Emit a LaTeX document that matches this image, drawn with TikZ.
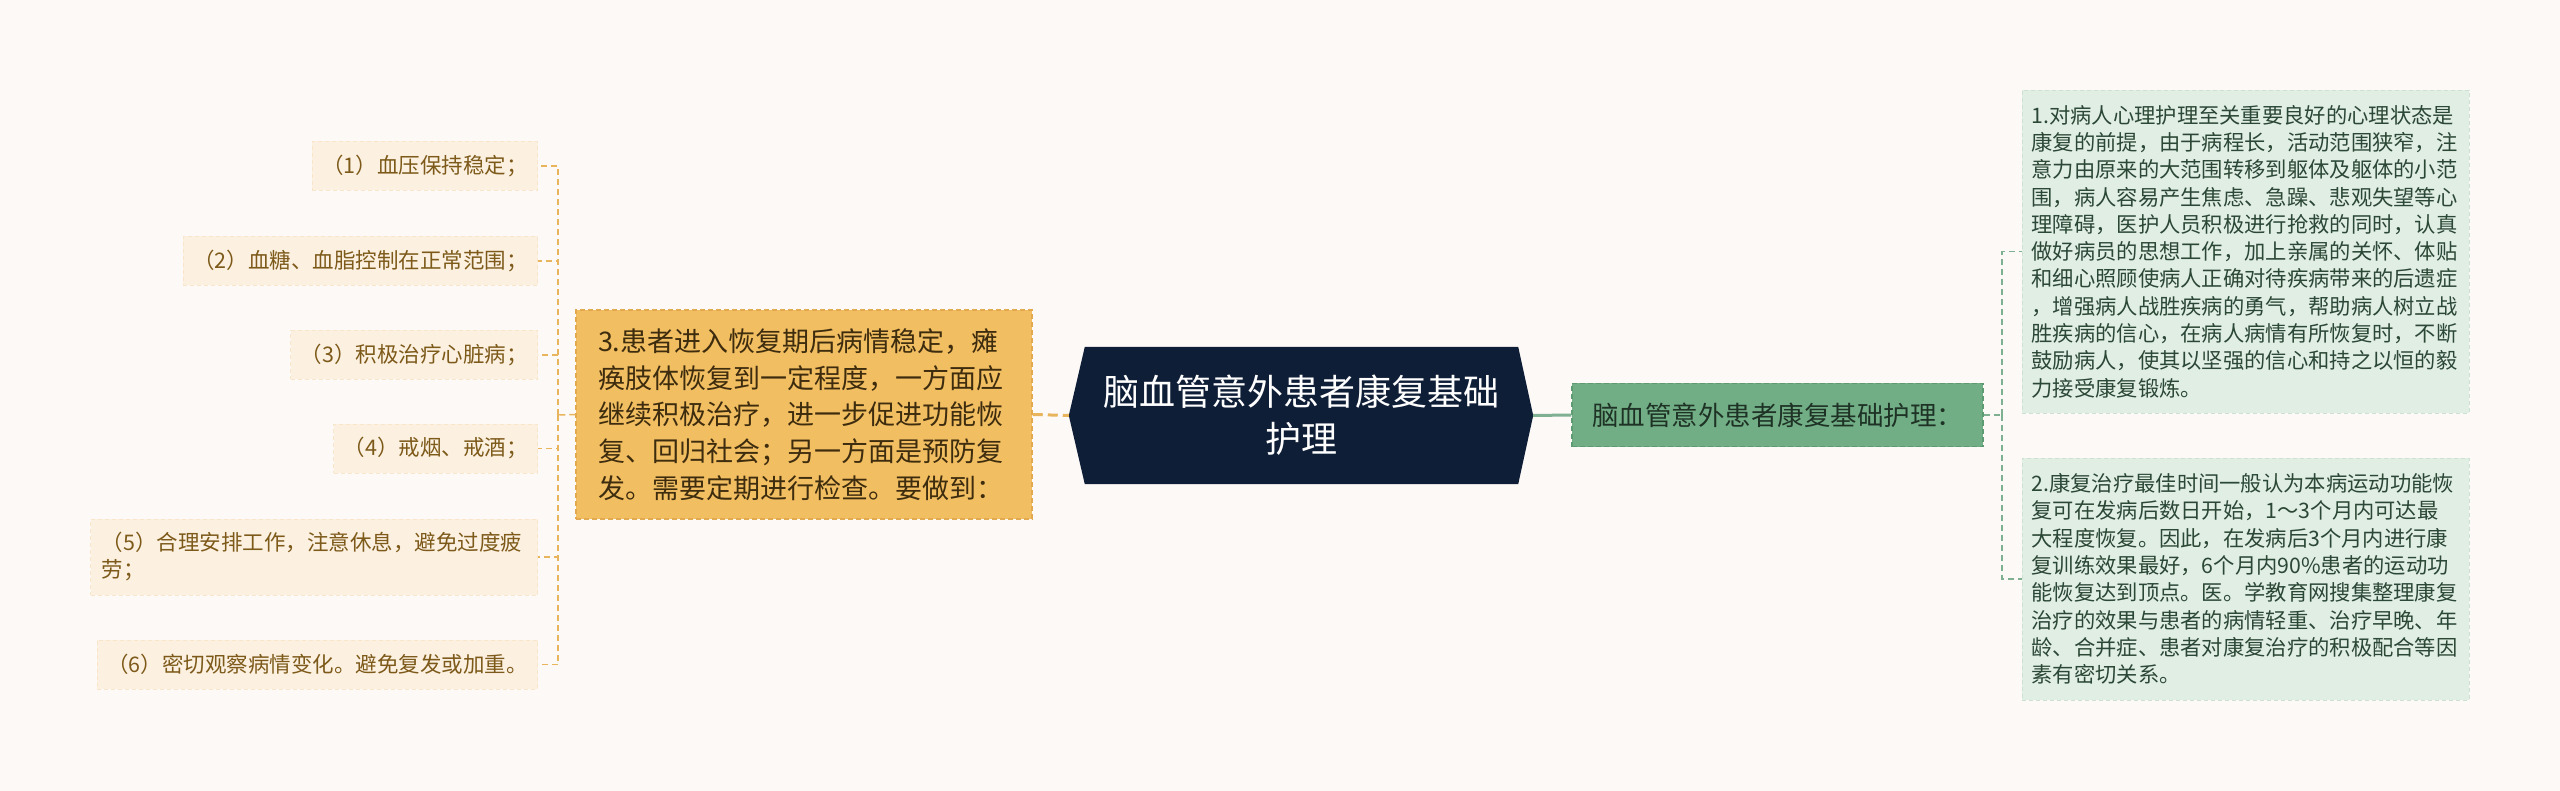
\documentclass[tikz,border=0pt]{standalone}
\usepackage{fontspec}
\setmainfont{Noto Sans CJK SC}
\usetikzlibrary{backgrounds,calc}
\definecolor{bgc}{HTML}{FDF9F7}
\definecolor{leaffill}{HTML}{FCF0E0}
\definecolor{leaftext}{HTML}{7D5A1A}
\definecolor{orfill}{HTML}{F2BE62}
\definecolor{orborder}{HTML}{E3A94F}
\definecolor{ortext}{HTML}{3D2C0E}
\definecolor{darkfill}{HTML}{0F1E37}
\definecolor{grfill}{HTML}{72AE85}
\definecolor{grborder}{HTML}{5E9A72}
\definecolor{grtext}{HTML}{1E3326}
\definecolor{rfill}{HTML}{E1EEE4}
\definecolor{rtext}{HTML}{2B4735}
\definecolor{lline}{HTML}{E8B55C}
\definecolor{rline}{HTML}{80B092}
\begin{document}
\begin{tikzpicture}[x=1pt,y=-1pt,
  leafbox/.style={anchor=east,fill=leaffill,draw=leaffill!85!orborder,dash pattern=on 4pt off 3pt,line width=0.8pt,text=leaftext,inner xsep=10pt,inner ysep=0pt,minimum height=49pt,align=left,font=\fontsize{21.5}{27}\selectfont},
  orbox/.style={fill=orfill,draw=orborder,dash pattern=on 5pt off 3pt,line width=1.5pt,text=ortext,minimum width=456pt,minimum height=209pt,text width=412pt,align=left,inner sep=0pt,font=\fontsize{27}{36.7}\selectfont},
  centerbox/.style={minimum width=433pt,minimum height=137pt,inner sep=0pt,text=white,align=center,font=\fontsize{36}{47}\selectfont},
  grbox/.style={fill=grfill,draw=grborder,dash pattern=on 5pt off 3pt,line width=1.5pt,text=grtext,minimum width=411pt,minimum height=63pt,inner sep=0pt,font=\fontsize{26.5}{32}\selectfont},
  rbox/.style={fill=rfill,draw=rfill!85!grborder,dash pattern=on 4pt off 3pt,line width=0.8pt,text=rtext,minimum width=447pt,text width=428pt,align=left,inner sep=0pt,font=\fontsize{21.3}{27.3}\selectfont},
  lconn/.style={draw=lline,line width=1.5pt,dash pattern=on 6pt off 4pt},
  rconn/.style={draw=rline,line width=1.5pt,dash pattern=on 6pt off 4pt}
]
\useasboundingbox (0,0) rectangle (2560,791);
\begin{scope}[on background layer]
\fill[bgc] (0,0) rectangle (2560,791);
\end{scope}

% left leaves
\node[leafbox] (l1) at (538,166) {（1）血压保持稳定；};
\node[leafbox] (l2) at (538,261) {（2）血糖、血脂控制在正常范围；};
\node[leafbox] (l3) at (538,355) {（3）积极治疗心脏病；};
\node[leafbox] (l4) at (538,448.5) {（4）戒烟、戒酒；};
\node[leafbox,minimum width=447pt,minimum height=76pt,text width=425pt,inner xsep=11pt] (l5) at (538,557) {（5）合理安排工作，注意休息，避免过度疲\\劳；};
\node[leafbox] (l6) at (538,664.5) {（6）密切观察病情变化。避免复发或加重。};

% orange box
\node[orbox] (or) at (804,414.5) {3.患者进入恢复期后病情稳定，瘫\\痪肢体恢复到一定程度，一方面应\\继续积极治疗，进一步促进功能恢\\复、回归社会；另一方面是预防复\\发。需要定期进行检查。要做到：};

% center
\node[centerbox] (ct) at (1301.5,415.5) {脑血管意外患者康复基础\\护理};
\coordinate (ctw) at ($(ct.west)+(-16,0)$);
\coordinate (cte) at ($(ct.east)+(15,0)$);
\begin{scope}[on background layer]
\fill[darkfill] (ct.north west) -- (ct.north east) -- (cte) -- (ct.south east) -- (ct.south west) -- (ctw) -- cycle;
\end{scope}

% green
\node[grbox] (gr) at (1777.5,415) {脑血管意外患者康复基础护理：};

% right boxes
\node[rbox,minimum height=323pt] (r1) at (2245.5,251.5) {1.对病人心理护理至关重要良好的心理状态是\\康复的前提，由于病程长，活动范围狭窄，注\\意力由原来的大范围转移到躯体及躯体的小范\\围，病人容易产生焦虑、急躁、悲观失望等心\\理障碍，医护人员积极进行抢救的同时，认真\\做好病员的思想工作，加上亲属的关怀、体贴\\和细心照顾使病人正确对待疾病带来的后遗症\\，增强病人战胜疾病的勇气，帮助病人树立战\\胜疾病的信心，在病人病情有所恢复时，不断\\鼓励病人，使其以坚强的信心和持之以恒的毅\\力接受康复锻炼。};
\node[rbox,minimum height=242pt] (r2) at (2245.5,579) {2.康复治疗最佳时间一般认为本病运动功能恢\\复可在发病后数日开始，1～3个月内可达最\\大程度恢复。因此，在发病后3个月内进行康\\复训练效果最好，6个月内90\%患者的运动功\\能恢复达到顶点。医。学教育网搜集整理康复\\治疗的效果与患者的病情轻重、治疗早晚、年\\龄、合并症、患者对康复治疗的积极配合等因\\素有密切关系。};

% connectors
\draw[draw=lline,line width=3pt,dash pattern=on 10pt off 5pt] (or.east) -- (ctw);
\draw[draw=rline,line width=3pt] (cte) -- (gr.west);

\coordinate (lj) at (558,415);
\draw[lconn] (or.west) -- (lj);
\foreach \n in {l1,l2,l3,l4,l5,l6}{
  \draw[lconn] (lj) |- (\n.east);
}
\coordinate (rj) at (2002,415);
\draw[rconn] (gr.east) -- (rj);
\draw[rconn] (rj) |- (r1.west);
\draw[rconn] (rj) |- (r2.west);
\end{tikzpicture}
\end{document}
